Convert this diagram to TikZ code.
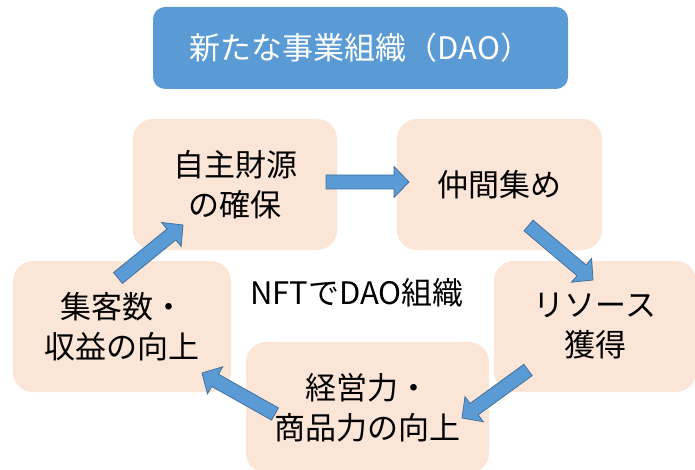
\documentclass[tikz,border=0pt]{standalone}
\usepackage{fontspec}
\setmainfont{Noto Sans CJK JP}
\usetikzlibrary{calc}
\definecolor{daoblue}{HTML}{5B9BD5}
\definecolor{daoedge}{HTML}{41719C}
\definecolor{daopeach}{HTML}{FBE5D6}
\tikzset{
	stage/.style={fill=daopeach,rounded corners=20pt,align=center,inner sep=0pt,
		minimum height=131pt,font=\fontsize{31}{40}\selectfont},
	titlebox/.style={fill=daoblue,rounded corners=12pt,text=white,inner sep=0pt,
		minimum width=415pt,minimum height=82pt,font=\fontsize{31}{36}\selectfont},
	arrowblock/.style={fill=daoblue,draw=daoedge,line width=0.8pt,line join=miter}
}
% block arrow from #1 to #2
\newcommand{\blockarrow}[2]{%
	\path ($(#2)!15pt!(#1)$) coordinate (ah);
	\filldraw[arrowblock] ($(#1)!7pt!90:(#2)$) -- ($(ah)!7pt!90:(#2)$)
	-- ($(ah)!15.5pt!90:(#2)$) -- (#2) -- ($(ah)!15.5pt!-90:(#2)$)
	-- ($(ah)!7pt!-90:(#2)$) -- ($(#1)!7pt!-90:(#2)$) -- cycle;
}
\begin{document}
\begin{tikzpicture}[x=1pt,y=-1pt,line join=round]
	\useasboundingbox (0,0) rectangle (695,470);
	\clip (0,0) rectangle (695,470);
	\node[titlebox] (title) at (360.5,48) {新たな事業組織（DAO）};
	\node[stage,minimum width=204pt] (zaigen) at (235,184.5) {自主財源\\の確保};
	\node[stage,minimum width=205pt] (nakama) at (499.5,184.5) {仲間集め};
	\node[stage,minimum width=202pt] (resource) at (595,326.5) {リソース\\獲得};
	\node[stage,minimum width=243pt] (keiei) at (367.5,407.5) {経営力・\\商品力の向上};
	\node[stage,minimum width=218pt] (shukyaku) at (122,326.5) {集客数・\\収益の向上};
	\node[font=\fontsize{31}{36}\selectfont] (nft) at (357,293) {NFTでDAO組織};
	\path
	(326,182) coordinate (a1s) (409,182) coordinate (a1e)
	(528.5,225.5) coordinate (a2s) (593,280) coordinate (a2e)
	(528,370) coordinate (a3s) (462,418) coordinate (a3e)
	(275,414) coordinate (a4s) (202,373) coordinate (a4e)
	(118,278) coordinate (a5s) (183,225) coordinate (a5e)
	;
	\foreach \a in {1,...,5}
	{\blockarrow{a\a s}{a\a e}}
\end{tikzpicture}
\end{document}
